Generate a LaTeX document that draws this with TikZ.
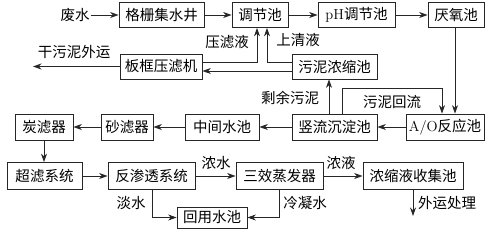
\documentclass[tikz,border=0pt]{standalone}
\usepackage{fontspec}
\newfontfamily\cjk{Noto Sans CJK SC}
\usetikzlibrary{arrows.meta}
\begin{document}
\begin{tikzpicture}[x=1pt,y=-1pt,
  box/.style={draw=black!85, line width=0.8pt, inner sep=0pt, minimum height=25pt, font=\cjk\fontsize{14.5}{16}\selectfont, anchor=center},
  lbl/.style={inner sep=1pt, font=\cjk\fontsize{14.5}{16}\selectfont},
  arr/.style={draw=black!85, line width=0.8pt, -{Stealth[length=8.5pt,width=6pt]}}]
\useasboundingbox (0,0) rectangle (500,232);
% row 1
\node[lbl] (fs) at (75,15) {废水};
\node[box, minimum width=85pt] (ggj) at (161.5,15) {格栅集水井};
\node[box, minimum width=56pt] (tjc) at (260,15) {调节池};
\node[box, minimum width=77pt] (ph) at (356.5,15) {{\rmfamily pH}调节池};
\node[box, minimum width=56pt] (yyc) at (456,15) {厌氧池};
% row 2
\node[box, minimum width=82pt] (bk) at (161,66.5) {板框压滤机};
\node[box, minimum width=85pt] (wn) at (334.5,66.5) {污泥浓缩池};
% row 3
\node[box, minimum width=58pt, minimum height=26pt] (tl) at (44,127) {炭滤器};
\node[box, minimum width=52pt, minimum height=26pt] (shl) at (127,127) {砂滤器};
\node[box, minimum width=74pt, minimum height=26pt] (zj) at (222,127) {中间水池};
\node[box, minimum width=85pt, minimum height=26pt] (sl) at (334.5,127) {竖流沉淀池};
\node[box, minimum width=78pt, minimum height=26pt] (ao) at (445,127) {{\rmfamily A/O}反应池};
% row 4
\node[box, minimum width=75pt, minimum height=27pt] (cl) at (44.5,176) {超滤系统};
\node[box, minimum width=87pt, minimum height=27pt] (fst) at (151.5,176) {反渗透系统};
\node[box, minimum width=87pt, minimum height=27pt] (sx) at (279.5,176) {三效蒸发器};
\node[box, minimum width=100pt, minimum height=27pt] (nsy) at (413,176) {浓缩液收集池};
\node[box, minimum width=70pt, minimum height=21pt] (hy) at (212,217.5) {回用水池};
% free ends
\coordinate (gw) at (33,66.5);
\coordinate (wy) at (413,216);
% labels
\node[lbl] at (74,52) {干污泥外运};
\node[lbl] at (227,42) {压滤液};
\node[lbl] at (298,40) {上清液};
\node[lbl] at (290,98) {剩余污泥};
\node[lbl] at (392,102) {污泥回流};
\node[lbl] at (216,163) {浓水};
\node[lbl] at (341,163) {浓液};
\node[lbl] at (131,203) {淡水};
\node[lbl] at (305,203) {冷凝水};
\node[lbl, anchor=west] at (417,203) {外运处理};
% connectors
\draw[arr] (fs) -- (ggj);
\draw[arr] (ggj) -- (tjc);
\draw[arr] (tjc) -- (ph);
\draw[arr] (ph) -- (yyc);
\draw[arr] ([xshift=-1pt]yyc.south) -- ([xshift=-1pt]yyc.south |- ao.north);
\draw[arr] (ao) -- (sl);
\draw[arr] (sl) -- (zj);
\draw[arr] (zj) -- (shl);
\draw[arr] (shl) -- (tl);
\draw[arr] (tl.south) -- (tl.south |- cl.north);
\draw[arr] (cl) -- (fst);
\draw[arr] (fst) -- (sx);
\draw[arr] (sx) -- (nsy);
\draw[arr] (nsy.south) -- (wy);
\draw[arr] ([xshift=0.5pt]fst.south) |- (hy.west);
\draw[arr] (sx.south) |- (hy.east);
\draw[arr] ([xshift=-5.5pt]sl.north) -- ([xshift=-5.5pt]sl.north |- wn.south);
\draw[arr] ([xshift=7.5pt]sl.north) -- ++(0,-25) -| ([xshift=-3pt]ao.north);
\draw[arr] ([yshift=4.5pt]bk.east) -| ([xshift=-3pt]tjc.south);
\draw[arr] ([yshift=4.5pt]wn.west) -| ([xshift=7pt]tjc.south);
\draw[arr] ([yshift=-4.5pt]wn.west) -- ([yshift=-4.5pt]wn.west -| bk.east);
\draw[arr] (bk.west) -- (gw);
\end{tikzpicture}
\end{document}
